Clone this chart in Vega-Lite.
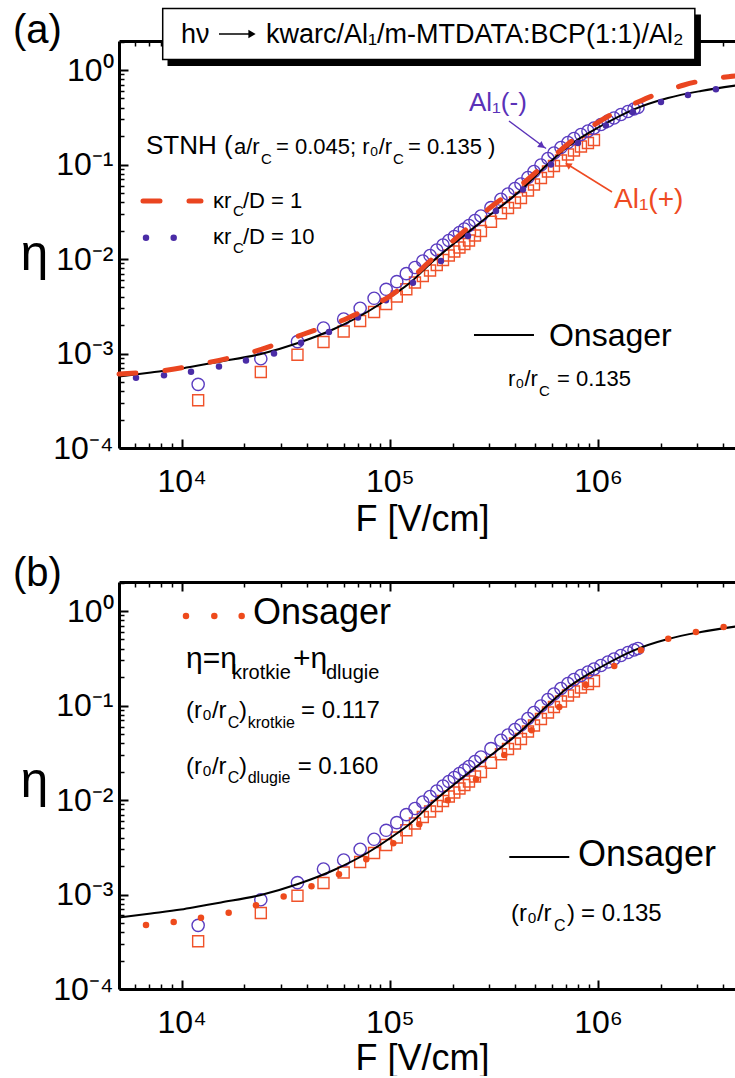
{
"$schema": "https://vega.github.io/schema/vega-lite/v6.json",
"background": "white",
"padding": {"left": 12, "top": 7, "right": 0, "bottom": 0},
"spacing": 134,
"bounds": "flush",
"config": {"view": {"stroke": null}, "font": "Liberation Sans", "text": {"font": "Liberation Sans"}},
"datasets": {
"circles": [{"F":12000,"eta":0.000472},{"F":24000,"eta":0.000881},{"F":36000,"eta":0.001334},{"F":48000,"eta":0.001863},{"F":60000,"eta":0.00232},{"F":72000,"eta":0.003011},{"F":84000,"eta":0.003841},{"F":96000,"eta":0.004782},{"F":108000,"eta":0.005756},{"F":120000,"eta":0.006995},{"F":132000,"eta":0.008135},{"F":144000,"eta":0.009533},{"F":156000,"eta":0.0109},{"F":168000,"eta":0.01246},{"F":180000,"eta":0.01408},{"F":192000,"eta":0.01571},{"F":204000,"eta":0.01732},{"F":216000,"eta":0.0191},{"F":228000,"eta":0.02079},{"F":240000,"eta":0.02264},{"F":256400,"eta":0.02557},{"F":273900,"eta":0.02854},{"F":306000,"eta":0.03494},{"F":341800,"eta":0.04287},{"F":369400,"eta":0.0488},{"F":399000,"eta":0.05579},{"F":426400,"eta":0.06222},{"F":460700,"eta":0.07293},{"F":492400,"eta":0.08441},{"F":531900,"eta":0.0989},{"F":574800,"eta":0.1159},{"F":614200,"eta":0.1325},{"F":663700,"eta":0.1515},{"F":717100,"eta":0.1712},{"F":766200,"eta":0.1887},{"F":827900,"eta":0.208},{"F":894500,"eta":0.2265},{"F":956100,"eta":0.2436},{"F":1033000,"eta":0.2653},{"F":1116000,"eta":0.289},{"F":1193000,"eta":0.3109},{"F":1289000,"eta":0.3385},{"F":1392000,"eta":0.3642},{"F":1488000,"eta":0.387},{"F":1555000,"eta":0.4015}],
"squares": [{"F":12000,"eta":0.00032},{"F":24000,"eta":0.000637},{"F":36000,"eta":0.000972},{"F":48000,"eta":0.001324},{"F":60000,"eta":0.00171},{"F":72000,"eta":0.002209},{"F":84000,"eta":0.002751},{"F":96000,"eta":0.003343},{"F":108000,"eta":0.004013},{"F":120000,"eta":0.004782},{"F":132000,"eta":0.005645},{"F":144000,"eta":0.006614},{"F":156000,"eta":0.007562},{"F":168000,"eta":0.008647},{"F":180000,"eta":0.009768},{"F":192000,"eta":0.0109},{"F":204000,"eta":0.01202},{"F":216000,"eta":0.01325},{"F":228000,"eta":0.01443},{"F":240000,"eta":0.01571},{"F":256400,"eta":0.01775},{"F":273900,"eta":0.01981},{"F":306000,"eta":0.02484},{"F":341800,"eta":0.03048},{"F":369400,"eta":0.03468},{"F":399000,"eta":0.03965},{"F":426400,"eta":0.04424},{"F":460700,"eta":0.05312},{"F":492400,"eta":0.06147},{"F":531900,"eta":0.07205},{"F":574800,"eta":0.08441},{"F":614200,"eta":0.09652},{"F":663700,"eta":0.1104},{"F":717100,"eta":0.1277},{"F":766200,"eta":0.1408},{"F":827900,"eta":0.1552},{"F":894500,"eta":0.169},{"F":956100,"eta":0.1819}],
"onsager": [{"F":5000,"eta":0.0005713},{"F":7123,"eta":0.0006297},{"F":9926,"eta":0.0006942},{"F":12380,"eta":0.000756},{"F":15450,"eta":0.0008234},{"F":24040,"eta":0.0009886},{"F":36200,"eta":0.001292},{"F":53900,"eta":0.001818},{"F":78510,"eta":0.002785},{"F":101260,"eta":0.004013},{"F":126300,"eta":0.005715},{"F":157600,"eta":0.009077},{"F":196600,"eta":0.01374},{"F":273900,"eta":0.02466},{"F":426400,"eta":0.05377},{"F":574800,"eta":0.1013},{"F":717100,"eta":0.1552},{"F":1033000,"eta":0.2558},{"F":1488000,"eta":0.3843},{"F":2167000,"eta":0.5062},{"F":3121000,"eta":0.6003},{"F":4598000,"eta":0.6866}],
"stnh1": [{"F":5000,"eta":0.000607},{"F":8598,"eta":0.0006692},{"F":11980,"eta":0.0007651},{"F":21530,"eta":0.001025},{"F":38680,"eta":0.001609},{"F":62930,"eta":0.002377},{"F":113100,"eta":0.004937},{"F":157600,"eta":0.009768},{"F":219600,"eta":0.01841},{"F":305900,"eta":0.03554},{"F":426400,"eta":0.06072},{"F":549900,"eta":0.0989},{"F":717100,"eta":0.165},{"F":924900,"eta":0.2497},{"F":1193000,"eta":0.3511},{"F":1555000,"eta":0.459},{"F":2006000,"eta":0.5788},{"F":2586000,"eta":0.6949},{"F":3373000,"eta":0.7945},{"F":4598000,"eta":0.8653}],
"stnh10": [{"F":6035,"eta":0.0005548},{"F":8225,"eta":0.0005884},{"F":11090,"eta":0.0006422},{"F":15110,"eta":0.000729},{"F":20370,"eta":0.0008437},{"F":27770,"eta":0.001001},{"F":37430,"eta":0.001302},{"F":51000,"eta":0.001689},{"F":70300,"eta":0.002406},{"F":95810,"eta":0.003659},{"F":129100,"eta":0.005618},{"F":176000,"eta":0.009533},{"F":237300,"eta":0.01753},{"F":323300,"eta":0.03224},{"F":436000,"eta":0.05443},{"F":594000,"eta":0.1001},{"F":800700,"eta":0.169},{"F":1091000,"eta":0.2589},{"F":1471000,"eta":0.3598},{"F":2006000,"eta":0.459},{"F":2704000,"eta":0.5445},{"F":3684000,"eta":0.6257}],
"fitb": [{"F":6740,"eta":0.0004758},{"F":9156,"eta":0.000512},{"F":12380,"eta":0.0005684},{"F":16820,"eta":0.0006422},{"F":22750,"eta":0.0007691},{"F":30900,"eta":0.000953},{"F":42030,"eta":0.001222},{"F":56980,"eta":0.001637},{"F":77070,"eta":0.002359},{"F":103900,"eta":0.003493},{"F":138500,"eta":0.005536},{"F":189600,"eta":0.009936},{"F":259300,"eta":0.01658},{"F":354500,"eta":0.02996},{"F":479900,"eta":0.0547},{"F":651300,"eta":0.09652},{"F":875000,"eta":0.165},{"F":1197000,"eta":0.2621},{"F":1608000,"eta":0.3843},{"F":2174000,"eta":0.5098},{"F":2953000,"eta":0.6003},{"F":4012000,"eta":0.6782}],
"a_shadow": [{"F1":8551,"F2":3121000,"e1":3.873,"e2":1.104}],
"a_box": [{"F1":8108,"F2":2918000,"e1":4.483,"e2":1.293}],
"a_boxtext": [{"F":9926,"eta":1.947,"label":"hν"},{"F":25410,"eta":1.947,"label":"kwarc/Al₁/m-MTDATA:BCP(1:1)/Al₂"}],
"a_boxarrow": [{"F1":15110,"F2":21530,"eta":2.408}],
"a_boxhead": [{"F":21770,"eta":2.408}],
"a_t26": [{"F":6739,"eta":0.1284,"label":"STNH ("}],
"a_t22": [{"F":17840,"eta":0.1284,"label":"a/r"},{"F":28390,"eta":0.1284,"label":"= 0.045; r₀/r"},{"F":122200,"eta":0.1284,"label":"= 0.135 )"},{"F":14150,"eta":0.03494,"label":"κr"},{"F":19700,"eta":0.03494,"label":"/D = 1"},{"F":14150,"eta":0.01432,"label":"κr"},{"F":19700,"eta":0.01432,"label":"/D = 10"},{"F":369400,"eta":0.0004532,"label":"r₀/r"},{"F":634900,"eta":0.0004532,"label":"= 0.135"}],
"a_sub": [{"F":24040,"eta":0.1013,"label":"C"},{"F":103500,"eta":0.1013,"label":"C"},{"F":17640,"eta":0.02853,"label":"C"},{"F":17640,"eta":0.01167,"label":"C"},{"F":520300,"eta":0.0003552,"label":"C"}],
"a_onsager": [{"F":581300,"eta":0.001201,"label":"Onsager"}],
"a_panel": [{"F":1548,"eta":1.933,"label":"(a)"}],
"a_minus": [{"F":239900,"eta":0.3687,"label":"Al₁(-)"}],
"a_plus": [{"F":1193000,"eta":0.03494,"label":"Al₁(+)"}],
"a_arrow_minus": [{"F1":373500,"e1":0.289,"F2":562300,"e2":0.1478}],
"a_head_minus": [{"F":537800,"eta":0.1571}],
"a_arrow_plus": [{"F1":1167000,"e1":0.05122,"F2":708900,"e2":0.1013}],
"a_head_plus": [{"F":717100,"eta":0.0989}],
"a_leg_dash": [{"F":6520,"eta":0.04113},{"F":12380,"eta":0.04113}],
"a_leg_dots": [{"F":6740,"eta":0.01681},{"F":9156,"eta":0.01681}],
"a_leg_line": [{"F1":253600,"F2":492400,"eta":0.001571}],
"b_panel": [{"F":1548,"eta":1.841,"label":"(b)"}],
"b_t36": [{"F":22010,"eta":0.7241,"label":"Onsager"},{"F":800900,"eta":0.002004,"label":"Onsager"}],
"b_t29": [{"F":10490,"eta":0.2515,"label":"η=η"},{"F":34250,"eta":0.2515,"label":"+η"}],
"b_t20": [{"F":17440,"eta":0.191,"label":"krotkie"},{"F":49350,"eta":0.191,"label":"dlugie"}],
"b_t24": [{"F":10490,"eta":0.07435,"label":"(r₀/r"},{"F":18850,"eta":0.07435,"label":")"},{"F":37430,"eta":0.07435,"label":"= 0.117"},{"F":10490,"eta":0.01872,"label":"(r₀/r"},{"F":18850,"eta":0.01872,"label":")"},{"F":36080,"eta":0.01872,"label":"= 0.160"},{"F":381800,"eta":0.0005247,"label":"(r₀/r"},{"F":708900,"eta":0.0005247,"label":")"},{"F":827900,"eta":0.0005247,"label":"= 0.135"}],
"b_sub": [{"F":16640,"eta":0.05827,"label":"C"},{"F":20760,"eta":0.05827,"label":"krotkie"},{"F":16640,"eta":0.01526,"label":"C"},{"F":20760,"eta":0.01526,"label":"dlugie"},{"F":614200,"eta":0.0004111,"label":"C"}],
"b_leg_dots": [{"F":10490,"eta":0.8866},{"F":14350,"eta":0.8866},{"F":19420,"eta":0.8866}],
"b_leg_line": [{"F1":374700,"F2":727500,"eta":0.002495}]
},
"vconcat": [
{
"width": 617, "height": 407,
"resolve": {"axis": {"x": "independent", "y": "independent"}},
"layer": [
{"data": {"name": "a_shadow"}, "mark": {"type": "rect", "color": "black"},
 "encoding": {"x": {"field": "F1", "type": "quantitative", "scale": {"type": "log", "domain": [5000, 4600000], "nice": false}, "axis": null}, "x2": {"field": "F2"}, "y": {"field": "e1", "type": "quantitative", "scale": {"type": "log", "domain": [0.0001, 2.03], "nice": false}, "axis": null}, "y2": {"field": "e2"}}},
{"data": {"name": "a_box"}, "mark": {"type": "rect", "fill": "white", "stroke": "black", "strokeWidth": 1.5},
 "encoding": {"x": {"field": "F1", "type": "quantitative", "scale": {"type": "log", "domain": [5000, 4600000], "nice": false}, "axis": null}, "x2": {"field": "F2"}, "y": {"field": "e1", "type": "quantitative", "scale": {"type": "log", "domain": [0.0001, 2.03], "nice": false}, "axis": null}, "y2": {"field": "e2"}}},
{"data": {"name": "a_boxtext"}, "mark": {"type": "text", "align": "left", "baseline": "alphabetic", "fontSize": 27, "color": "black"},
 "encoding": {"x": {"field": "F", "type": "quantitative", "scale": {"type": "log", "domain": [5000, 4600000], "nice": false}, "axis": {"orient": "top", "offset": -5, "tickSize": 5, "tickWidth": 1.5, "tickColor": "black", "labels": false, "domain": false, "grid": false, "title": null, "values": [6000,7000,8000,9000,20000,30000,40000,50000,60000,70000,80000,90000,200000,300000,400000,500000,600000,700000,800000,900000,2000000,3000000,4000000]}}, "y": {"field": "eta", "type": "quantitative", "scale": {"type": "log", "domain": [0.0001, 2.03], "nice": false}, "axis": null}, "text": {"field": "label"}}},
{"data": {"name": "a_boxarrow"}, "mark": {"type": "rule", "color": "black", "strokeWidth": 1.5},
 "encoding": {"x": {"field": "F1", "type": "quantitative", "scale": {"type": "log", "domain": [5000, 4600000], "nice": false}, "axis": null}, "x2": {"field": "F2"}, "y": {"field": "eta", "type": "quantitative", "scale": {"type": "log", "domain": [0.0001, 2.03], "nice": false}, "axis": null}}},
{"data": {"name": "a_boxhead"}, "mark": {"type": "point", "shape": "triangle-right", "filled": true, "color": "black", "size": 70, "opacity": 1},
 "encoding": {"x": {"field": "F", "type": "quantitative", "scale": {"type": "log", "domain": [5000, 4600000], "nice": false}, "axis": null}, "y": {"field": "eta", "type": "quantitative", "scale": {"type": "log", "domain": [0.0001, 2.03], "nice": false}, "axis": null}}},
{"data": {"name": "squares"}, "mark": {"type": "point", "shape": "square", "filled": false, "size": 121, "strokeWidth": 1.4, "color": "#f0522a", "opacity": 1},
 "encoding": {"x": {"field": "F", "type": "quantitative", "scale": {"type": "log", "domain": [5000, 4600000], "nice": false}, "axis": {"orient": "bottom", "offset": -5, "tickSize": 5, "tickWidth": 1.5, "tickColor": "black", "labels": false, "domain": false, "grid": false, "title": null, "values": [6000,7000,8000,9000,20000,30000,40000,50000,60000,70000,80000,90000,200000,300000,400000,500000,600000,700000,800000,900000,2000000,3000000,4000000]}}, "y": {"field": "eta", "type": "quantitative", "scale": {"type": "log", "domain": [0.0001, 2.03], "nice": false}, "axis": {"orient": "left", "offset": -5, "tickSize": 5, "tickWidth": 1.5, "tickColor": "black", "labels": false, "domain": false, "grid": false, "title": null, "values": [0.0002,0.0003,0.0004,0.0005,0.0006,0.0007,0.0008,0.0009,0.002,0.003,0.004,0.005,0.006,0.007,0.008,0.009,0.02,0.03,0.04,0.05,0.06,0.07,0.08,0.09,0.2,0.3,0.4,0.5,0.6,0.7,0.8,0.9,2]}}}},
{"data": {"name": "circles"}, "mark": {"type": "point", "shape": "circle", "filled": false, "size": 150, "strokeWidth": 1.4, "color": "#5a3cc0", "opacity": 1},
 "encoding": {"x": {"field": "F", "type": "quantitative", "scale": {"type": "log", "domain": [5000, 4600000], "nice": false}, "axis": {"orient": "bottom", "offset": -9, "tickSize": 9, "tickWidth": 2, "tickColor": "black", "labels": false, "domain": false, "grid": false, "title": null, "values": [10000,100000,1000000]}}, "y": {"field": "eta", "type": "quantitative", "scale": {"type": "log", "domain": [0.0001, 2.03], "nice": false}, "axis": {"orient": "left", "offset": -9, "tickSize": 9, "tickWidth": 2, "tickColor": "black", "labels": false, "domain": false, "grid": false, "title": null, "values": [0.0001,0.001,0.01,0.1,1]}}}},
{"data": {"name": "onsager"}, "mark": {"type": "line", "color": "black", "strokeWidth": 2, "interpolate": "monotone"},
 "encoding": {"x": {"field": "F", "type": "quantitative", "scale": {"type": "log", "domain": [5000, 4600000], "nice": false}, "axis": {"orient": "bottom", "values": [10000,100000,1000000], "ticks": false, "domain": true, "domainColor": "black", "domainWidth": 3, "grid": false, "labelExpr": "'10' + (round(log(datum.value)/LN10) == 4 ? '⁴' : round(log(datum.value)/LN10) == 5 ? '⁵' : '⁶')", "labelFontSize": 32, "labelColor": "black", "labelPadding": 18, "labelOverlap": false, "labelFlush": false, "labelBound": false, "title": "F [V/cm]", "titleFontSize": 36, "titleFontWeight": "normal", "titleColor": "black", "titleX": 303, "titleY": 82, "titleAlign": "center", "titleBaseline": "alphabetic"}}, "y": {"field": "eta", "type": "quantitative", "scale": {"type": "log", "domain": [0.0001, 2.03], "nice": false}, "axis": {"orient": "left", "values": [0.0001,0.001,0.01,0.1,1], "ticks": false, "domain": true, "domainColor": "black", "domainWidth": 3, "grid": false, "labelExpr": "round(log(datum.value)/LN10) == 0 ? '10⁰' : round(log(datum.value)/LN10) == -1 ? '10⁻¹' : round(log(datum.value)/LN10) == -2 ? '10⁻²' : round(log(datum.value)/LN10) == -3 ? '10⁻³' : '10⁻⁴'", "labelFontSize": 32, "labelColor": "black", "labelPadding": 6, "labelOverlap": false, "labelFlush": false, "labelBound": false, "labelBaseline": "middle", "title": "η", "titleAngle": 0, "titleFontSize": 50, "titleFontWeight": "normal", "titleColor": "black", "titleX": -85, "titleY": 228, "titleAlign": "center", "titleBaseline": "alphabetic"}}}},
{"data": {"name": "stnh10"}, "mark": {"type": "point", "shape": "circle", "filled": true, "size": 42, "color": "#4a2ca6", "opacity": 1},
 "encoding": {"x": {"field": "F", "type": "quantitative", "scale": {"type": "log", "domain": [5000, 4600000], "nice": false}, "axis": {"orient": "top", "offset": -9, "tickSize": 9, "tickWidth": 2, "tickColor": "black", "labels": false, "domain": false, "grid": false, "title": null, "values": [10000,100000,1000000]}}, "y": {"field": "eta", "type": "quantitative", "scale": {"type": "log", "domain": [0.0001, 2.03], "nice": false}, "axis": null}}},
{"data": {"name": "stnh1"}, "mark": {"type": "line", "color": "#ea4520", "strokeWidth": 5, "strokeDash": [17, 29], "strokeCap": "round", "interpolate": "monotone"},
 "encoding": {"x": {"field": "F", "type": "quantitative", "scale": {"type": "log", "domain": [5000, 4600000], "nice": false}, "axis": {"orient": "top", "domain": true, "domainColor": "black", "domainWidth": 3, "ticks": false, "labels": false, "grid": false, "title": null}}, "y": {"field": "eta", "type": "quantitative", "scale": {"type": "log", "domain": [0.0001, 2.03], "nice": false}, "axis": null}}},
{"data": {"name": "a_t26"}, "mark": {"type": "text", "align": "left", "baseline": "alphabetic", "fontSize": 26, "color": "black"},
 "encoding": {"x": {"field": "F", "type": "quantitative", "scale": {"type": "log", "domain": [5000, 4600000], "nice": false}, "axis": null}, "y": {"field": "eta", "type": "quantitative", "scale": {"type": "log", "domain": [0.0001, 2.03], "nice": false}, "axis": null}, "text": {"field": "label"}}},
{"data": {"name": "a_t22"}, "mark": {"type": "text", "align": "left", "baseline": "alphabetic", "fontSize": 22, "color": "black"},
 "encoding": {"x": {"field": "F", "type": "quantitative", "scale": {"type": "log", "domain": [5000, 4600000], "nice": false}, "axis": null}, "y": {"field": "eta", "type": "quantitative", "scale": {"type": "log", "domain": [0.0001, 2.03], "nice": false}, "axis": null}, "text": {"field": "label"}}},
{"data": {"name": "a_sub"}, "mark": {"type": "text", "align": "left", "baseline": "alphabetic", "fontSize": 15, "color": "black"},
 "encoding": {"x": {"field": "F", "type": "quantitative", "scale": {"type": "log", "domain": [5000, 4600000], "nice": false}, "axis": null}, "y": {"field": "eta", "type": "quantitative", "scale": {"type": "log", "domain": [0.0001, 2.03], "nice": false}, "axis": null}, "text": {"field": "label"}}},
{"data": {"name": "a_onsager"}, "mark": {"type": "text", "align": "left", "baseline": "alphabetic", "fontSize": 32, "color": "black"},
 "encoding": {"x": {"field": "F", "type": "quantitative", "scale": {"type": "log", "domain": [5000, 4600000], "nice": false}, "axis": null}, "y": {"field": "eta", "type": "quantitative", "scale": {"type": "log", "domain": [0.0001, 2.03], "nice": false}, "axis": null}, "text": {"field": "label"}}},
{"data": {"name": "a_panel"}, "mark": {"type": "text", "align": "left", "baseline": "alphabetic", "fontSize": 40, "color": "black"},
 "encoding": {"x": {"field": "F", "type": "quantitative", "scale": {"type": "log", "domain": [5000, 4600000], "nice": false}, "axis": null}, "y": {"field": "eta", "type": "quantitative", "scale": {"type": "log", "domain": [0.0001, 2.03], "nice": false}, "axis": null}, "text": {"field": "label"}}},
{"data": {"name": "a_minus"}, "mark": {"type": "text", "align": "left", "baseline": "alphabetic", "fontSize": 26, "color": "#5a32b8"},
 "encoding": {"x": {"field": "F", "type": "quantitative", "scale": {"type": "log", "domain": [5000, 4600000], "nice": false}, "axis": null}, "y": {"field": "eta", "type": "quantitative", "scale": {"type": "log", "domain": [0.0001, 2.03], "nice": false}, "axis": null}, "text": {"field": "label"}}},
{"data": {"name": "a_plus"}, "mark": {"type": "text", "align": "left", "baseline": "alphabetic", "fontSize": 28, "color": "#ee4a22"},
 "encoding": {"x": {"field": "F", "type": "quantitative", "scale": {"type": "log", "domain": [5000, 4600000], "nice": false}, "axis": null}, "y": {"field": "eta", "type": "quantitative", "scale": {"type": "log", "domain": [0.0001, 2.03], "nice": false}, "axis": null}, "text": {"field": "label"}}},
{"data": {"name": "a_arrow_minus"}, "mark": {"type": "rule", "color": "#5a32b8", "strokeWidth": 1.5},
 "encoding": {"x": {"field": "F1", "type": "quantitative", "scale": {"type": "log", "domain": [5000, 4600000], "nice": false}, "axis": null}, "x2": {"field": "F2"}, "y": {"field": "e1", "type": "quantitative", "scale": {"type": "log", "domain": [0.0001, 2.03], "nice": false}, "axis": null}, "y2": {"field": "e2"}}},
{"data": {"name": "a_head_minus"}, "mark": {"type": "point", "shape": "triangle-right", "filled": true, "color": "#5a32b8", "size": 55, "angle": 36, "opacity": 1},
 "encoding": {"x": {"field": "F", "type": "quantitative", "scale": {"type": "log", "domain": [5000, 4600000], "nice": false}, "axis": null}, "y": {"field": "eta", "type": "quantitative", "scale": {"type": "log", "domain": [0.0001, 2.03], "nice": false}, "axis": null}}},
{"data": {"name": "a_arrow_plus"}, "mark": {"type": "rule", "color": "#ee4a22", "strokeWidth": 1.5},
 "encoding": {"x": {"field": "F1", "type": "quantitative", "scale": {"type": "log", "domain": [5000, 4600000], "nice": false}, "axis": null}, "x2": {"field": "F2"}, "y": {"field": "e1", "type": "quantitative", "scale": {"type": "log", "domain": [0.0001, 2.03], "nice": false}, "axis": null}, "y2": {"field": "e2"}}},
{"data": {"name": "a_head_plus"}, "mark": {"type": "point", "shape": "triangle-right", "filled": true, "color": "#ee4a22", "size": 55, "angle": 212, "opacity": 1},
 "encoding": {"x": {"field": "F", "type": "quantitative", "scale": {"type": "log", "domain": [5000, 4600000], "nice": false}, "axis": null}, "y": {"field": "eta", "type": "quantitative", "scale": {"type": "log", "domain": [0.0001, 2.03], "nice": false}, "axis": null}}},
{"data": {"name": "a_leg_dash"}, "mark": {"type": "line", "color": "#ea4520", "strokeWidth": 5, "strokeDash": [17, 29], "strokeCap": "round"},
 "encoding": {"x": {"field": "F", "type": "quantitative", "scale": {"type": "log", "domain": [5000, 4600000], "nice": false}, "axis": null}, "y": {"field": "eta", "type": "quantitative", "scale": {"type": "log", "domain": [0.0001, 2.03], "nice": false}, "axis": null}}},
{"data": {"name": "a_leg_dots"}, "mark": {"type": "point", "shape": "circle", "filled": true, "size": 42, "color": "#4a2ca6", "opacity": 1},
 "encoding": {"x": {"field": "F", "type": "quantitative", "scale": {"type": "log", "domain": [5000, 4600000], "nice": false}, "axis": null}, "y": {"field": "eta", "type": "quantitative", "scale": {"type": "log", "domain": [0.0001, 2.03], "nice": false}, "axis": null}}},
{"data": {"name": "a_leg_line"}, "mark": {"type": "rule", "color": "black", "strokeWidth": 2},
 "encoding": {"x": {"field": "F1", "type": "quantitative", "scale": {"type": "log", "domain": [5000, 4600000], "nice": false}, "axis": null}, "x2": {"field": "F2"}, "y": {"field": "eta", "type": "quantitative", "scale": {"type": "log", "domain": [0.0001, 2.03], "nice": false}, "axis": null}}}
]
},
{
"width": 617, "height": 407,
"resolve": {"axis": {"x": "independent", "y": "independent"}},
"layer": [
{"data": {"name": "squares"}, "mark": {"type": "point", "shape": "square", "filled": false, "size": 121, "strokeWidth": 1.4, "color": "#f0522a", "opacity": 1},
 "encoding": {"x": {"field": "F", "type": "quantitative", "scale": {"type": "log", "domain": [5000, 4600000], "nice": false}, "axis": {"orient": "bottom", "offset": -5, "tickSize": 5, "tickWidth": 1.5, "tickColor": "black", "labels": false, "domain": false, "grid": false, "title": null, "values": [6000,7000,8000,9000,20000,30000,40000,50000,60000,70000,80000,90000,200000,300000,400000,500000,600000,700000,800000,900000,2000000,3000000,4000000]}}, "y": {"field": "eta", "type": "quantitative", "scale": {"type": "log", "domain": [0.0001, 2.03], "nice": false}, "axis": {"orient": "left", "offset": -5, "tickSize": 5, "tickWidth": 1.5, "tickColor": "black", "labels": false, "domain": false, "grid": false, "title": null, "values": [0.0002,0.0003,0.0004,0.0005,0.0006,0.0007,0.0008,0.0009,0.002,0.003,0.004,0.005,0.006,0.007,0.008,0.009,0.02,0.03,0.04,0.05,0.06,0.07,0.08,0.09,0.2,0.3,0.4,0.5,0.6,0.7,0.8,0.9,2]}}}},
{"data": {"name": "circles"}, "mark": {"type": "point", "shape": "circle", "filled": false, "size": 150, "strokeWidth": 1.4, "color": "#5a3cc0", "opacity": 1},
 "encoding": {"x": {"field": "F", "type": "quantitative", "scale": {"type": "log", "domain": [5000, 4600000], "nice": false}, "axis": {"orient": "bottom", "offset": -9, "tickSize": 9, "tickWidth": 2, "tickColor": "black", "labels": false, "domain": false, "grid": false, "title": null, "values": [10000,100000,1000000]}}, "y": {"field": "eta", "type": "quantitative", "scale": {"type": "log", "domain": [0.0001, 2.03], "nice": false}, "axis": {"orient": "left", "offset": -9, "tickSize": 9, "tickWidth": 2, "tickColor": "black", "labels": false, "domain": false, "grid": false, "title": null, "values": [0.0001,0.001,0.01,0.1,1]}}}},
{"data": {"name": "onsager"}, "mark": {"type": "line", "color": "black", "strokeWidth": 2, "interpolate": "monotone"},
 "encoding": {"x": {"field": "F", "type": "quantitative", "scale": {"type": "log", "domain": [5000, 4600000], "nice": false}, "axis": {"orient": "bottom", "values": [10000,100000,1000000], "ticks": false, "domain": true, "domainColor": "black", "domainWidth": 3, "grid": false, "labelExpr": "'10' + (round(log(datum.value)/LN10) == 4 ? '⁴' : round(log(datum.value)/LN10) == 5 ? '⁵' : '⁶')", "labelFontSize": 32, "labelColor": "black", "labelPadding": 18, "labelOverlap": false, "labelFlush": false, "labelBound": false, "title": "F [V/cm]", "titleFontSize": 36, "titleFontWeight": "normal", "titleColor": "black", "titleX": 303, "titleY": 80, "titleAlign": "center", "titleBaseline": "alphabetic"}}, "y": {"field": "eta", "type": "quantitative", "scale": {"type": "log", "domain": [0.0001, 2.03], "nice": false}, "axis": {"orient": "left", "values": [0.0001,0.001,0.01,0.1,1], "ticks": false, "domain": true, "domainColor": "black", "domainWidth": 3, "grid": false, "labelExpr": "round(log(datum.value)/LN10) == 0 ? '10⁰' : round(log(datum.value)/LN10) == -1 ? '10⁻¹' : round(log(datum.value)/LN10) == -2 ? '10⁻²' : round(log(datum.value)/LN10) == -3 ? '10⁻³' : '10⁻⁴'", "labelFontSize": 32, "labelColor": "black", "labelPadding": 6, "labelOverlap": false, "labelFlush": false, "labelBound": false, "labelBaseline": "middle", "title": "η", "titleAngle": 0, "titleFontSize": 50, "titleFontWeight": "normal", "titleColor": "black", "titleX": -85, "titleY": 214, "titleAlign": "center", "titleBaseline": "alphabetic"}}}},
{"data": {"name": "fitb"}, "mark": {"type": "point", "shape": "circle", "filled": true, "size": 42, "color": "#ee4a1c", "opacity": 1},
 "encoding": {"x": {"field": "F", "type": "quantitative", "scale": {"type": "log", "domain": [5000, 4600000], "nice": false}, "axis": {"orient": "top", "offset": -9, "tickSize": 9, "tickWidth": 2, "tickColor": "black", "labels": false, "domain": false, "grid": false, "title": null, "values": [10000,100000,1000000]}}, "y": {"field": "eta", "type": "quantitative", "scale": {"type": "log", "domain": [0.0001, 2.03], "nice": false}, "axis": null}}},
{"data": {"name": "b_panel"}, "mark": {"type": "text", "align": "left", "baseline": "alphabetic", "fontSize": 40, "color": "black"},
 "encoding": {"x": {"field": "F", "type": "quantitative", "scale": {"type": "log", "domain": [5000, 4600000], "nice": false}, "axis": {"orient": "top", "domain": true, "domainColor": "black", "domainWidth": 3, "ticks": false, "labels": false, "grid": false, "title": null}}, "y": {"field": "eta", "type": "quantitative", "scale": {"type": "log", "domain": [0.0001, 2.03], "nice": false}, "axis": null}, "text": {"field": "label"}}},
{"data": {"name": "b_t36"}, "mark": {"type": "text", "align": "left", "baseline": "alphabetic", "fontSize": 36, "color": "black"},
 "encoding": {"x": {"field": "F", "type": "quantitative", "scale": {"type": "log", "domain": [5000, 4600000], "nice": false}, "axis": {"orient": "top", "offset": -5, "tickSize": 5, "tickWidth": 1.5, "tickColor": "black", "labels": false, "domain": false, "grid": false, "title": null, "values": [6000,7000,8000,9000,20000,30000,40000,50000,60000,70000,80000,90000,200000,300000,400000,500000,600000,700000,800000,900000,2000000,3000000,4000000]}}, "y": {"field": "eta", "type": "quantitative", "scale": {"type": "log", "domain": [0.0001, 2.03], "nice": false}, "axis": null}, "text": {"field": "label"}}},
{"data": {"name": "b_t29"}, "mark": {"type": "text", "align": "left", "baseline": "alphabetic", "fontSize": 30, "color": "black"},
 "encoding": {"x": {"field": "F", "type": "quantitative", "scale": {"type": "log", "domain": [5000, 4600000], "nice": false}, "axis": null}, "y": {"field": "eta", "type": "quantitative", "scale": {"type": "log", "domain": [0.0001, 2.03], "nice": false}, "axis": null}, "text": {"field": "label"}}},
{"data": {"name": "b_t20"}, "mark": {"type": "text", "align": "left", "baseline": "alphabetic", "fontSize": 20, "color": "black"},
 "encoding": {"x": {"field": "F", "type": "quantitative", "scale": {"type": "log", "domain": [5000, 4600000], "nice": false}, "axis": null}, "y": {"field": "eta", "type": "quantitative", "scale": {"type": "log", "domain": [0.0001, 2.03], "nice": false}, "axis": null}, "text": {"field": "label"}}},
{"data": {"name": "b_t24"}, "mark": {"type": "text", "align": "left", "baseline": "alphabetic", "fontSize": 24, "color": "black"},
 "encoding": {"x": {"field": "F", "type": "quantitative", "scale": {"type": "log", "domain": [5000, 4600000], "nice": false}, "axis": null}, "y": {"field": "eta", "type": "quantitative", "scale": {"type": "log", "domain": [0.0001, 2.03], "nice": false}, "axis": null}, "text": {"field": "label"}}},
{"data": {"name": "b_sub"}, "mark": {"type": "text", "align": "left", "baseline": "alphabetic", "fontSize": 16, "color": "black"},
 "encoding": {"x": {"field": "F", "type": "quantitative", "scale": {"type": "log", "domain": [5000, 4600000], "nice": false}, "axis": null}, "y": {"field": "eta", "type": "quantitative", "scale": {"type": "log", "domain": [0.0001, 2.03], "nice": false}, "axis": null}, "text": {"field": "label"}}},
{"data": {"name": "b_leg_dots"}, "mark": {"type": "point", "shape": "circle", "filled": true, "size": 42, "color": "#ee4a1c", "opacity": 1},
 "encoding": {"x": {"field": "F", "type": "quantitative", "scale": {"type": "log", "domain": [5000, 4600000], "nice": false}, "axis": null}, "y": {"field": "eta", "type": "quantitative", "scale": {"type": "log", "domain": [0.0001, 2.03], "nice": false}, "axis": null}}},
{"data": {"name": "b_leg_line"}, "mark": {"type": "rule", "color": "black", "strokeWidth": 2},
 "encoding": {"x": {"field": "F1", "type": "quantitative", "scale": {"type": "log", "domain": [5000, 4600000], "nice": false}, "axis": null}, "x2": {"field": "F2"}, "y": {"field": "eta", "type": "quantitative", "scale": {"type": "log", "domain": [0.0001, 2.03], "nice": false}, "axis": null}}}
]
}
]
}
